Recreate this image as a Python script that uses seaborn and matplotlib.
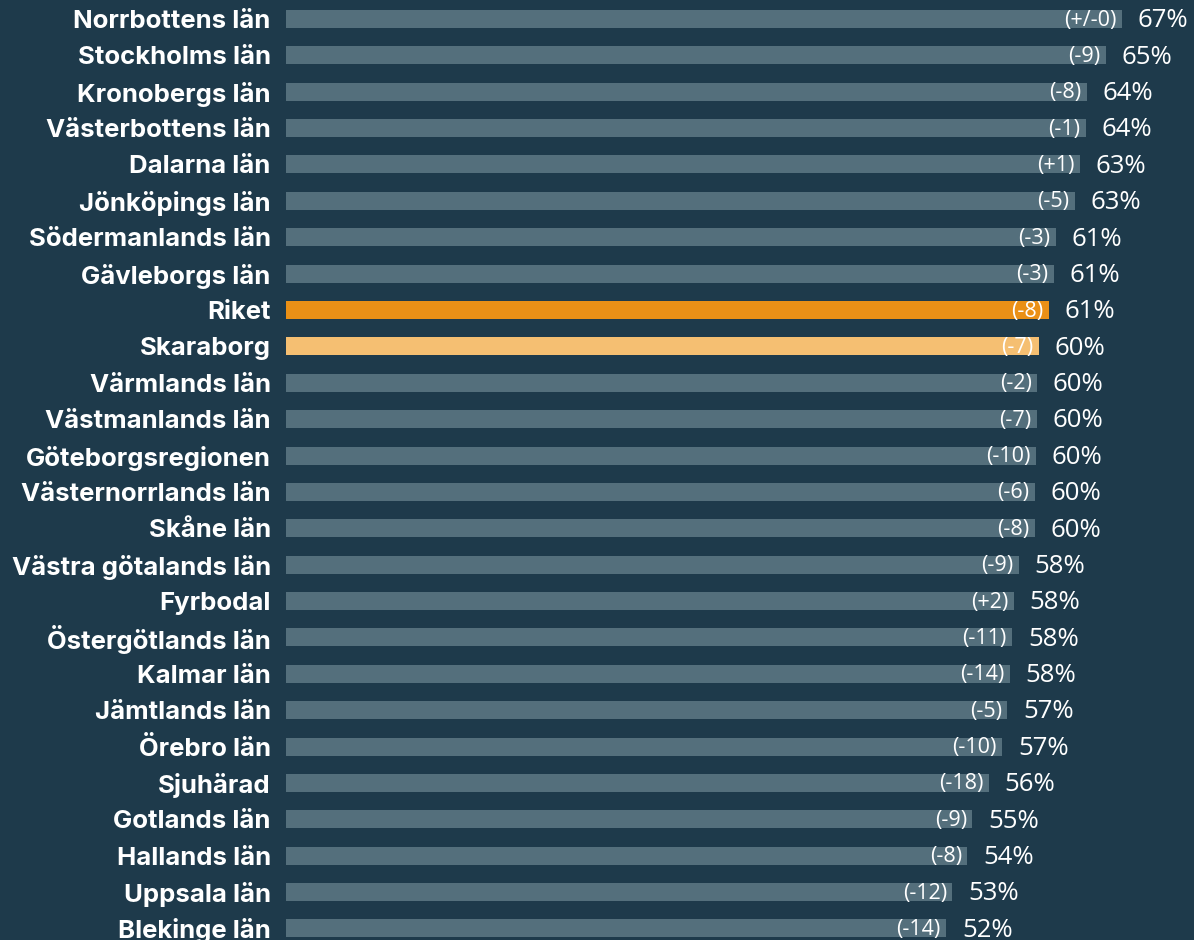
import seaborn as sns
import matplotlib.pyplot as plt
import pandas as pd

regions = ["Norrbottens län", "Stockholms län", "Kronobergs län", "Västerbottens län",
           "Dalarna län", "Jönköpings län", "Södermanlands län", "Gävleborgs län",
           "Riket", "Skaraborg", "Värmlands län", "Västmanlands län",
           "Göteborgsregionen", "Västernorrlands län", "Skåne län", "Västra götalands län",
           "Fyrbodal", "Östergötlands län", "Kalmar län", "Jämtlands län",
           "Örebro län", "Sjuhärad", "Gotlands län", "Hallands län",
           "Uppsala län", "Blekinge län"]
values = [67.0, 65.7, 64.2, 64.1, 63.6, 63.2, 61.7, 61.5,
          61.1, 60.3, 60.2, 60.2, 60.1, 60.0, 60.0, 58.7,
          58.3, 58.2, 58.0, 57.8, 57.4, 56.3, 55.0, 54.6,
          53.4, 52.9]
pct_labels = [67, 65, 64, 64, 63, 63, 61, 61, 61, 60, 60, 60, 60, 60, 60, 58,
              58, 58, 58, 57, 57, 56, 55, 54, 53, 52]
changes = ["(+/-0)", "(-9)", "(-8)", "(-1)", "(+1)", "(-5)", "(-3)", "(-3)",
           "(-8)", "(-7)", "(-2)", "(-7)", "(-10)", "(-6)", "(-8)", "(-9)",
           "(+2)", "(-11)", "(-14)", "(-5)", "(-10)", "(-18)", "(-9)", "(-8)",
           "(-12)", "(-14)"]

bg = "#1e3a4b"
bar_col = "#546f7c"
special = {"Riket": "#ea9016", "Skaraborg": "#f5bf72"}

df = pd.DataFrame({"region": regions, "value": values})
palette = {r: special.get(r, bar_col) for r in regions}

fig = plt.figure(figsize=(11.94, 9.4), dpi=100, facecolor=bg)
ax = fig.add_axes([286 / 1194, 0, 1 - 286 / 1194, 1])
ax.set_facecolor(bg)

sns.barplot(data=df, x="value", y="region", hue="region", palette=palette,
            width=0.495, legend=False, ax=ax, saturation=1)

ax.set_xlim(0, 72.75)
ax.set_ylim(25.319, -0.522)
for s in ax.spines.values():
    s.set_visible(False)
ax.set_xticks([])
ax.tick_params(axis="y", length=0, pad=11)
ax.set_yticks(range(len(regions)))
ax.set_yticklabels(regions, color="white", fontsize=18.5, fontweight="bold", family="Inter")
ax.set_xlabel("")
ax.set_ylabel("")

for i, (v, p, c) in enumerate(zip(values, pct_labels, changes)):
    ax.text(v - 0.45, i + 0.03, c, ha="right", va="center", color="white",
            fontsize=15.5, family="Open Sans")
    ax.text(v + 1.25, i + 0.05, f"{p}%", ha="left", va="center", color="white",
            fontsize=18.5, family="Open Sans")

fig.savefig("out.png", dpi=100, facecolor=bg)
